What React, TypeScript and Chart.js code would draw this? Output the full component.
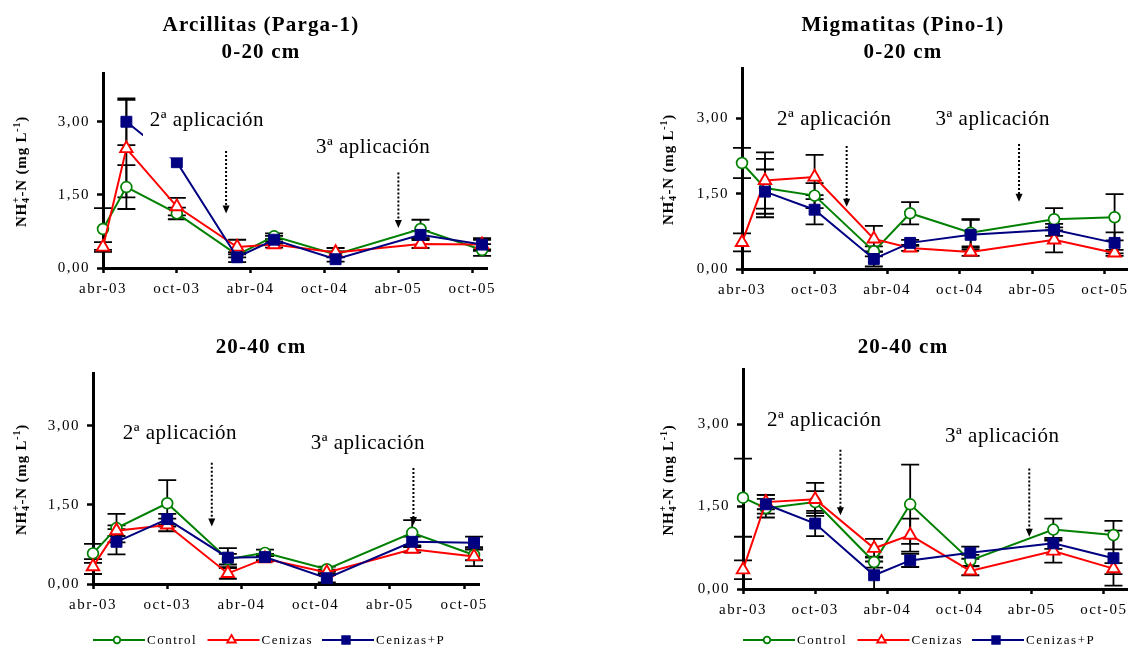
import { useEffect, useRef } from 'react';
import { Chart, registerables } from 'chart.js';

Chart.register(...registerables);

const W = 1137;
const H = 648;
const SERIF = '"Liberation Serif", "Times New Roman", serif';

// ---- Data ----
// sampling dates, in months since abr-03
const MONTHS = [0, 1.9, 6, 10.9, 13.9, 18.9, 25.8, 30.8];
const X_TICKS = [0, 6, 12, 18, 24, 30];
const X_LABELS = ['abr-03', 'oct-03', 'abr-04', 'oct-04', 'abr-05', 'oct-05'];
const Y_TICKS = [0, 1.5, 3];
const Y_LABELS = ['0,00', '1,50', '3,00'];
const SERIES_NAMES = ['Control', 'Cenizas', 'Cenizas+P'];
const NOTE_TEXTS = ['2ª aplicación', '3ª aplicación'];

// Arcillitas (Parga-1) 0-20 cm
const A1_CONTROL = [0.8, 1.66, 1.12, 0.27, 0.65, 0.28, 0.8, 0.37];
const A1_CONTROL_ERR = [0.43, 0.45, 0.12, 0.05, 0.06, 0.06, 0.19, 0.12];
const A1_CENIZAS = [0.43, 2.45, 1.26, 0.43, 0.48, 0.32, 0.49, 0.48];
const A1_CENIZAS_ERR = [0.1, 1.0, 0.18, 0.15, 0.06, 0.09, 0.08, 0.1];
const A1_CENIZASP = [null, 3.0, 2.17, 0.22, 0.58, 0.18, 0.68, 0.48];
const A1_CENIZASP_ERR = [0, 0.48, 0, 0.1, 0.08, 0.05, 0.08, 0.13];

// Migmatitas (Pino-1) 0-20 cm
const M1_CONTROL = [2.11, 1.61, 1.46, 0.35, 1.11, 0.72, 0.99, 1.03];
const M1_CONTROL_ERR = [0.3, 0.58, 0.25, 0.1, 0.22, 0.27, 0.22, 0.46];
const M1_CENIZAS = [0.53, 1.76, 1.83, 0.6, 0.42, 0.34, 0.58, 0.32];
const M1_CENIZAS_ERR = [0.18, 0.56, 0.44, 0.26, 0.06, 0.08, 0.25, 0.06];
const M1_CENIZASP = [null, 1.54, 1.18, 0.2, 0.52, 0.68, 0.78, 0.52];
const M1_CENIZASP_ERR = [0, 0.44, 0.29, 0.15, 0.06, 0.3, 0.12, 0.21];

// Arcillitas (Parga-1) 20-40 cm
const A2_CONTROL = [0.58, 1.06, 1.53, 0.47, 0.59, 0.28, 0.97, 0.55];
const A2_CONTROL_ERR = [0.18, 0.27, 0.44, 0.1, 0.06, 0.05, 0.24, 0.1];
const A2_CENIZAS = [0.33, 1.01, 1.12, 0.2, 0.48, 0.22, 0.66, 0.52];
const A2_CENIZAS_ERR = [0.14, 0.1, 0.12, 0.1, 0.05, 0.05, 0.06, 0.18];
const A2_CENIZASP = [null, 0.8, 1.23, 0.5, 0.51, 0.11, 0.8, 0.78];
const A2_CENIZASP_ERR = [0, 0.24, 0.1, 0.18, 0.06, 0.08, 0.1, 0.12];

// Migmatitas (Pino-1) 20-40 cm
const M2_CONTROL = [1.66, 1.47, 1.58, 0.49, 1.54, 0.52, 1.08, 0.98];
const M2_CONTROL_ERR = [0.71, 0.17, 0.2, 0.1, 0.72, 0.1, 0.2, 0.26];
const M2_CENIZAS = [0.35, 1.58, 1.63, 0.74, 0.98, 0.33, 0.69, 0.37];
const M2_CENIZAS_ERR = [0.17, 0.13, 0.3, 0.17, 0.3, 0.08, 0.21, 0.1];
const M2_CENIZASP = [null, 1.54, 1.19, 0.25, 0.52, 0.66, 0.83, 0.56];
const M2_CENIZASP_ERR = [0, 0.17, 0.23, 0.25, 0.12, 0.11, 0.1, 0.5];

// annotation anchors (month, value)
const A1_NOTE_X = [3.8, 17.3];
const A1_NOTE_Y = [3.03, 2.47];
const A1_ARROW_X = [10.0, 24.0];
const A1_ARROW_FROM = [2.4, 1.96];
const A1_ARROW_TO = [1.12, 0.82];

const M1_NOTE_X = [2.9, 16.0];
const M1_NOTE_Y = [2.98, 2.98];
const M1_ARROW_X = [8.65, 22.9];
const M1_ARROW_FROM = [2.45, 2.49];
const M1_ARROW_TO = [1.24, 1.34];

const A2_NOTE_X = [2.4, 17.6];
const A2_NOTE_Y = [2.86, 2.67];
const A2_ARROW_X = [9.6, 25.9];
const A2_ARROW_FROM = [2.3, 2.2];
const A2_ARROW_TO = [1.09, 1.12];

const M2_NOTE_X = [2.0, 16.8];
const M2_NOTE_Y = [3.07, 2.78];
const M2_ARROW_X = [8.1, 23.8];
const M2_ARROW_FROM = [2.53, 2.19];
const M2_ARROW_TO = [1.34, 0.95];

// ---- Styles ----
const SERIES_STYLE = [
  { color: '#008000', fill: '#ffffff', pointStyle: 'circle', radius: 5.4, pbw: 1.7, order: 3 },
  { color: '#ff0000', fill: '#ffffff', pointStyle: 'triangle', radius: 7.2, pbw: 1.9, order: 2 },
  { color: '#000080', fill: '#000080', pointStyle: 'rect', radius: 7.7, pbw: 1, order: 1 },
];

type PanelCfg = {
  key: string;
  area: { left: number; top: number; right: number; bottom: number };
  xMax: number;
  values: (number | null)[][];
  errors: number[][];
  noteX: number[];
  noteY: number[];
  arrowX: number[];
  arrowFrom: number[];
  arrowTo: number[];
  titles: string[];
  titleX: number;
  titleY: number[];
  yTitleX: number;
  legend: boolean;
  mask?: { x0: number; x1: number; y0: number; y1: number };
};

const PANELS: PanelCfg[] = [
  {
    key: 'a1',
    area: { left: 103, top: 73, right: 487, bottom: 268 },
    xMax: 31.2,
    values: [A1_CONTROL, A1_CENIZAS, A1_CENIZASP],
    errors: [A1_CONTROL_ERR, A1_CENIZAS_ERR, A1_CENIZASP_ERR],
    noteX: A1_NOTE_X, noteY: A1_NOTE_Y,
    arrowX: A1_ARROW_X, arrowFrom: A1_ARROW_FROM, arrowTo: A1_ARROW_TO,
    titles: ['Arcillitas (Parga-1)', '0-20 cm'],
    titleX: 261, titleY: [26, 53],
    yTitleX: 21,
    legend: false,
    mask: { x0: 3.25, x1: 14.3, y0: 3.35, y1: 2.27 },
  },
  {
    key: 'm1',
    area: { left: 742, top: 68, right: 1137, bottom: 269 },
    xMax: 31.9,
    values: [M1_CONTROL, M1_CENIZAS, M1_CENIZASP],
    errors: [M1_CONTROL_ERR, M1_CENIZAS_ERR, M1_CENIZASP_ERR],
    noteX: M1_NOTE_X, noteY: M1_NOTE_Y,
    arrowX: M1_ARROW_X, arrowFrom: M1_ARROW_FROM, arrowTo: M1_ARROW_TO,
    titles: ['Migmatitas (Pino-1)', '0-20 cm'],
    titleX: 903, titleY: [26, 53],
    yTitleX: 668,
    legend: false,
  },
  {
    key: 'a2',
    area: { left: 93, top: 373, right: 479, bottom: 584 },
    xMax: 31.2,
    values: [A2_CONTROL, A2_CENIZAS, A2_CENIZASP],
    errors: [A2_CONTROL_ERR, A2_CENIZAS_ERR, A2_CENIZASP_ERR],
    noteX: A2_NOTE_X, noteY: A2_NOTE_Y,
    arrowX: A2_ARROW_X, arrowFrom: A2_ARROW_FROM, arrowTo: A2_ARROW_TO,
    titles: ['20-40 cm'],
    titleX: 261, titleY: [348],
    yTitleX: 21,
    legend: true,
  },
  {
    key: 'm2',
    area: { left: 743, top: 369, right: 1137, bottom: 589 },
    xMax: 32.0,
    values: [M2_CONTROL, M2_CENIZAS, M2_CENIZASP],
    errors: [M2_CONTROL_ERR, M2_CENIZAS_ERR, M2_CENIZASP_ERR],
    noteX: M2_NOTE_X, noteY: M2_NOTE_Y,
    arrowX: M2_ARROW_X, arrowFrom: M2_ARROW_FROM, arrowTo: M2_ARROW_TO,
    titles: ['20-40 cm'],
    titleX: 903, titleY: [348],
    yTitleX: 668,
    legend: true,
  },
];

function drawMarker(ctx: CanvasRenderingContext2D, style: string, x: number, y: number, r: number, stroke: string, fill: string, lw: number) {
  ctx.save();
  ctx.beginPath();
  if (style === 'circle') {
    ctx.arc(x, y, r, 0, Math.PI * 2);
  } else if (style === 'triangle') {
    ctx.moveTo(x, y - r);
    ctx.lineTo(x + r * 0.866, y + r * 0.5);
    ctx.lineTo(x - r * 0.866, y + r * 0.5);
    ctx.closePath();
  } else {
    ctx.rect(x - r, y - r, 2 * r, 2 * r);
  }
  ctx.fillStyle = fill;
  ctx.fill();
  ctx.strokeStyle = stroke;
  ctx.lineWidth = lw;
  ctx.stroke();
  ctx.restore();
}

function drawYTitle(ctx: CanvasRenderingContext2D, cx: number, cy: number) {
  const big = `bold 15px ${SERIF}`;
  const small = `bold 10px ${SERIF}`;
  ctx.save();
  ctx.translate(cx, cy);
  ctx.rotate(-Math.PI / 2);
  (ctx as any).letterSpacing = '0.8px';
  ctx.textBaseline = 'alphabetic';
  ctx.textAlign = 'left';
  ctx.fillStyle = '#000';
  const parts = [
    { t: 'NH', f: big, dy: 0, stack: '', sdy: 0 },
    { t: '4', f: small, dy: 3, stack: '+', sdy: -7 },
    { t: '-N (mg L', f: big, dy: 0, stack: '', sdy: 0 },
    { t: '-1', f: small, dy: -6, stack: '', sdy: 0 },
    { t: ')', f: big, dy: 0, stack: '', sdy: 0 },
  ];
  let total = 0;
  const widths = parts.map((p) => {
    ctx.font = p.f;
    let w = ctx.measureText(p.t).width;
    if (p.stack) w = Math.max(w, ctx.measureText(p.stack).width);
    total += w;
    return w;
  });
  let x = -total / 2;
  const base = 5;
  parts.forEach((p, i) => {
    ctx.font = p.f;
    ctx.fillText(p.t, x, base + p.dy);
    if (p.stack) ctx.fillText(p.stack, x, base + p.sdy);
    x += widths[i];
  });
  ctx.restore();
}

const errorBarPlugin = {
  id: 'errorBars',
  beforeDatasetsDraw(chart: any) {
    const ctx: CanvasRenderingContext2D = chart.ctx;
    const xs = chart.scales.x;
    const ys = chart.scales.y;
    ctx.save();
    ctx.strokeStyle = '#000';
    ctx.lineWidth = 1.8;
    chart.data.datasets.forEach((ds: any) => {
      ds.data.forEach((pt: any, i: number) => {
        const e = ds.errors[i];
        if (pt.y == null || !e) return;
        const x = xs.getPixelForValue(pt.x);
        const yTop = ys.getPixelForValue(pt.y + e);
        const yBot = ys.getPixelForValue(Math.max(0, pt.y - e));
        ctx.beginPath();
        ctx.moveTo(x, yTop);
        ctx.lineTo(x, yBot);
        ctx.moveTo(x - 9, yTop);
        ctx.lineTo(x + 9, yTop);
        ctx.moveTo(x - 9, yBot);
        ctx.lineTo(x + 9, yBot);
        ctx.stroke();
      });
    });
    ctx.restore();
  },
};

function makeDecorPlugin(p: PanelCfg) {
  return {
    id: 'decor_' + p.key,
    beforeDraw(chart: any) {
      (chart.ctx as any).letterSpacing = '1.5px';
    },
    afterDatasetsDraw(chart: any) {
      const ctx: CanvasRenderingContext2D = chart.ctx;
      const xs = chart.scales.x;
      const ys = chart.scales.y;
      const ca = chart.chartArea;
      ctx.save();
      // white box behind first note (hides part of a line, as in the original)
      if (p.mask) {
        const x0 = xs.getPixelForValue(p.mask.x0);
        const x1 = xs.getPixelForValue(p.mask.x1);
        const y0 = ys.getPixelForValue(p.mask.y0);
        const y1 = ys.getPixelForValue(p.mask.y1);
        ctx.fillStyle = '#fff';
        ctx.fillRect(x0, y0, x1 - x0, y1 - y0);
      }
      // notes
      ctx.fillStyle = '#000';
      ctx.font = `21px ${SERIF}`;
      (ctx as any).letterSpacing = '0.5px';
      ctx.textAlign = 'left';
      ctx.textBaseline = 'middle';
      NOTE_TEXTS.forEach((t, i) => {
        ctx.fillText(t, xs.getPixelForValue(p.noteX[i]), ys.getPixelForValue(p.noteY[i]));
      });
      // arrows
      p.arrowX.forEach((ax, i) => {
        const x = xs.getPixelForValue(ax);
        const yA = ys.getPixelForValue(p.arrowFrom[i]);
        const yB = ys.getPixelForValue(p.arrowTo[i]);
        ctx.save();
        ctx.strokeStyle = '#000';
        ctx.lineWidth = 2;
        ctx.setLineDash([2, 2]);
        ctx.beginPath();
        ctx.moveTo(x, yA);
        ctx.lineTo(x, yB - 7);
        ctx.stroke();
        ctx.setLineDash([]);
        ctx.beginPath();
        ctx.moveTo(x - 3.5, yB - 8);
        ctx.lineTo(x + 3.5, yB - 8);
        ctx.lineTo(x, yB);
        ctx.closePath();
        ctx.fill();
        ctx.restore();
      });
      // titles
      ctx.font = `bold 21px ${SERIF}`;
      (ctx as any).letterSpacing = '1.2px';
      ctx.textAlign = 'center';
      p.titles.forEach((t, i) => ctx.fillText(t, p.titleX, p.titleY[i]));
      // y-axis title
      drawYTitle(ctx, p.yTitleX, (ca.top + ca.bottom) / 2 + 1);
      // legend
      if (p.legend) {
        const ly = 640;
        let lx = ca.left;
        ctx.font = `13px ${SERIF}`;
        (ctx as any).letterSpacing = '1.5px';
        ctx.textAlign = 'left';
        ctx.textBaseline = 'middle';
        SERIES_NAMES.forEach((name, si) => {
          const s = SERIES_STYLE[si];
          ctx.strokeStyle = s.color;
          ctx.lineWidth = 2;
          ctx.beginPath();
          ctx.moveTo(lx, ly);
          ctx.lineTo(lx + 52, ly);
          ctx.stroke();
          const mr = s.pointStyle === 'circle' ? 3.3 : s.pointStyle === 'triangle' ? 5 : 3.8;
          drawMarker(ctx, s.pointStyle, lx + 24, ly, mr, s.color, s.fill, 1.8);
          ctx.fillStyle = '#000';
          ctx.fillText(name, lx + 54, ly + 1);
          lx += 114.5;
        });
      }
      ctx.restore();
    },
  };
}

function buildConfig(p: PanelCfg): any {
  const Y_AXIS_W = 60;
  const X_AXIS_H = 40;
  const datasets = SERIES_STYLE.map((s, si) => ({
    label: SERIES_NAMES[si],
    data: MONTHS.map((m, i) => ({ x: m, y: p.values[si][i] })),
    errors: p.errors[si],
    borderColor: s.color,
    backgroundColor: s.fill,
    pointBackgroundColor: s.fill,
    pointBorderColor: s.color,
    pointStyle: s.pointStyle,
    pointRadius: s.radius,
    pointBorderWidth: s.pbw,
    borderWidth: 2,
    tension: 0,
    clip: false,
    order: s.order,
  }));
  return {
    type: 'line',
    data: { datasets },
    options: {
      responsive: false,
      animation: false,
      events: [],
      layout: {
        padding: {
          left: p.area.left - Y_AXIS_W,
          top: p.area.top,
          right: W - p.area.right,
          bottom: H - p.area.bottom - X_AXIS_H,
        },
      },
      scales: {
        x: {
          type: 'linear',
          min: 0,
          max: p.xMax,
          afterBuildTicks: (s: any) => {
            s.ticks = X_TICKS.map((v) => ({ value: v }));
          },
          afterFit: (s: any) => {
            s.height = X_AXIS_H;
            s.paddingLeft = 0;
            s.paddingRight = 0;
          },
          ticks: {
            callback: (_v: any, i: number) => X_LABELS[i],
            color: '#000',
            font: { family: SERIF, size: 15 },
            padding: 7,
            maxRotation: 0,
            autoSkip: false,
          },
          grid: { drawOnChartArea: false, tickLength: 5, tickColor: '#000', tickWidth: 2.5, color: '#000' },
          border: { width: 3, color: '#000' },
        },
        y: {
          type: 'linear',
          min: 0,
          max: 4,
          afterBuildTicks: (s: any) => {
            s.ticks = Y_TICKS.map((v) => ({ value: v }));
          },
          afterFit: (s: any) => {
            s.width = Y_AXIS_W;
            s.paddingTop = 0;
            s.paddingBottom = 0;
          },
          ticks: {
            callback: (_v: any, i: number) => Y_LABELS[i],
            color: '#000',
            font: { family: SERIF, size: 15 },
            padding: 7,
          },
          grid: { drawOnChartArea: false, tickLength: 6, tickColor: '#000', tickWidth: 2.5, color: '#000' },
          border: { width: 3, color: '#000' },
        },
      },
      plugins: {
        legend: { display: false },
        title: { display: false },
        tooltip: { enabled: false },
      },
    },
    plugins: [errorBarPlugin, makeDecorPlugin(p)],
  };
}

function Panel({ cfg }: { cfg: PanelCfg }) {
  const ref = useRef<HTMLCanvasElement | null>(null);
  useEffect(() => {
    if (!ref.current) return;
    const chart = new Chart(ref.current, buildConfig(cfg));
    return () => chart.destroy();
  }, [cfg]);
  return (
    <canvas
      ref={ref}
      width={W}
      height={H}
      style={{ position: 'absolute', left: 0, top: 0, width: W, height: H }}
    />
  );
}

export default function App() {
  return (
    <div style={{ position: 'fixed', left: 0, top: 0, width: W, height: H, background: '#fff', overflow: 'hidden' }}>
      {PANELS.map((p) => (
        <Panel key={p.key} cfg={p} />
      ))}
    </div>
  );
}
